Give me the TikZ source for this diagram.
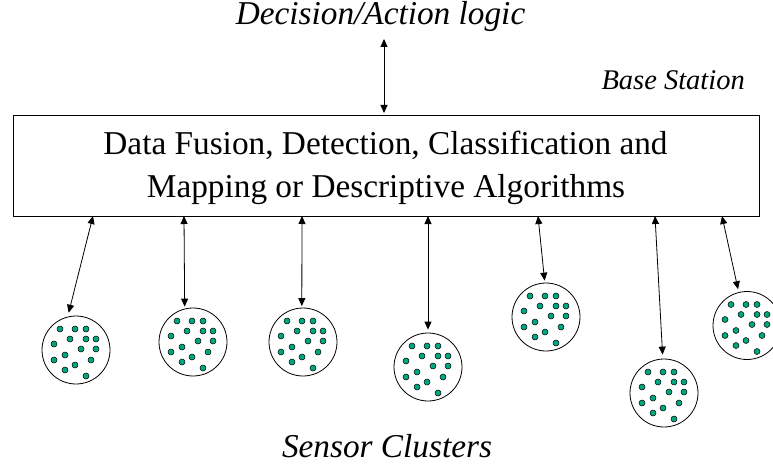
\documentclass[tikz,border=0pt]{standalone}
\usepackage{fontspec}
\setmainfont{Liberation Serif}
\usetikzlibrary{arrows.meta,calc}
\definecolor{sensorgreen}{RGB}{0,166,126}
\tikzset{
  link/.style={line width=0.8pt,{Triangle[length=8pt,width=7pt]}-{Triangle[length=8pt,width=7pt]}},
  cluster/.style={circle,draw,line width=0.8pt,minimum size=68pt,inner sep=0pt},
  sensor/.style={fill=sensorgreen,draw=black,line width=0.5pt},
  label/.style={font=\itshape\fontsize{33.3}{40}\selectfont,inner sep=0pt}
}
\begin{document}
\begin{tikzpicture}[x=1pt,y=-1pt]
\useasboundingbox (0,0) rectangle (773,465);

% titles
\node[label,anchor=base] (decision) at (380.5,25) {Decision/Action logic};
\node[font=\itshape\fontsize{28.5}{34}\selectfont,inner sep=0pt,anchor=base east] (base) at (745,90) {Base Station};
\node[label,anchor=base] (sensors) at (387,457) {Sensor Clusters};

% base station processing box
\node[draw,line width=0.8pt,minimum width=746pt,minimum height=101pt,inner sep=0pt] (fusion) at (386,165.5) {};
\node[font=\fontsize{33.3}{42}\selectfont,inner sep=0pt,anchor=base] (line1) at (385.5,155)
  {Data Fusion, Detection, Classification and};
\node[font=\fontsize{33.3}{42}\selectfont,inner sep=0pt,anchor=base] (line2) at (386,197)
  {Mapping or Descriptive Algorithms};

% link to decision logic
\coordinate (up) at (384,39);
\coordinate (down) at (384,113);
\draw[link] (up) -- (down);

% sensor clusters
\foreach \n/\cx/\cy in {1/76/350,2/193/342,3/303/342,4/428/367,5/546/317,6/664/393,7/747/325.5}{
  \node[cluster] (c\n) at (\cx,\cy) {};
  \foreach \dx/\dy in {-16/-21,-1/-21,10/-21,-6/-11,10/-11,20/-11,-22/-6,5/-1,20/-1,
                       -22/10,-11/5,15/10,-11/20,-1/15,10/26}
    \filldraw[sensor] ($(c\n)+(\dx,\dy)$) circle[radius=3pt];
}

% links from the box to each cluster
\foreach \n/\sx/\ang/\gap in {1/93/104/4,2/184/104/2,3/302/92/1.5,4/428/90/3,5/538/92/2,6/655/92/4,7/722/104/3}{
  \coordinate (s\n) at (\sx,216);
  \draw[link,shorten >=\gap pt] (s\n) -- (c\n.\ang);
}
\end{tikzpicture}
\end{document}
